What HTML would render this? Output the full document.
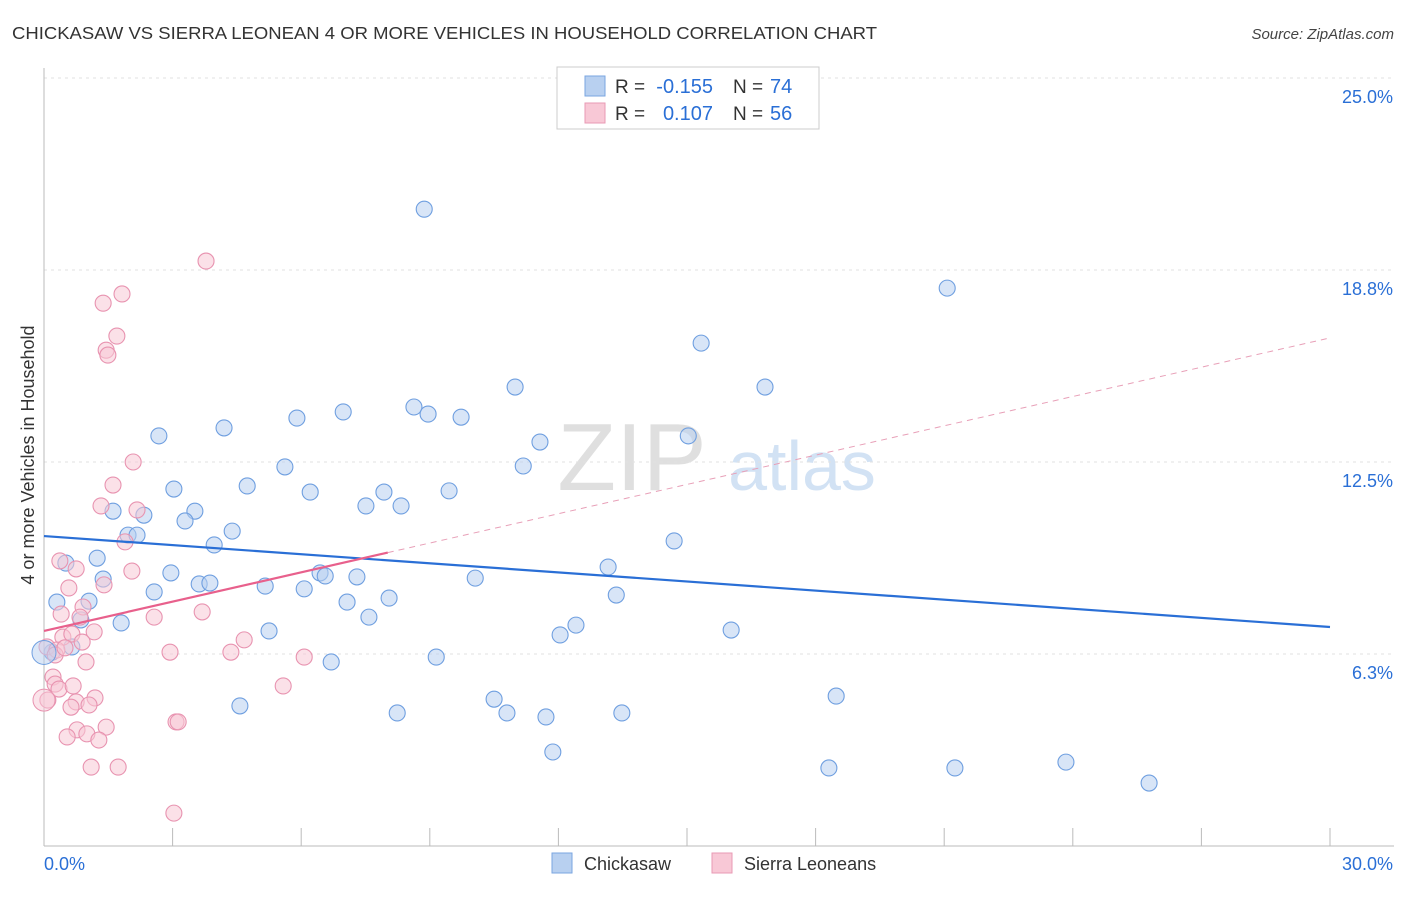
<!DOCTYPE html>
<html><head><meta charset="utf-8"><style>
body{margin:0;background:#fff;font-family:"Liberation Sans",sans-serif}
svg text{font-family:"Liberation Sans",sans-serif}
</style></head><body>
<svg id="chart" width="1406" height="892" xmlns="http://www.w3.org/2000/svg">
<text x="12" y="39" font-size="17.5" fill="#333" textLength="865" lengthAdjust="spacingAndGlyphs">CHICKASAW VS SIERRA LEONEAN 4 OR MORE VEHICLES IN HOUSEHOLD CORRELATION CHART</text>
<text x="1394" y="39" font-size="15" fill="#444" text-anchor="end" font-style="italic">Source: ZipAtlas.com</text>
<text x="632" y="490" font-size="96" fill="#d8d8d8" text-anchor="middle" font-family="Liberation Serif" opacity="0.8">ZIP</text>
<text x="802" y="490" font-size="70" fill="#c8dcf2" text-anchor="middle" opacity="0.8">atlas</text>
<text transform="translate(34,455) rotate(-90)" font-size="18" fill="#333" text-anchor="middle">4 or more Vehicles in Household</text>
<g id="grid"></g><g id="axes"></g><g id="marks"></g>
<g>
<rect x="557" y="67" width="262" height="62" fill="#fff" stroke="#ccc"/>
<rect x="585" y="76" width="20" height="20" fill="#b8d0f0" stroke="#7aa6e0"/>
<rect x="585" y="103" width="20" height="20" fill="#f8c8d6" stroke="#e89ab4"/>
<text x="615" y="93" font-size="19" fill="#333">R =</text>
<text x="713" y="93" font-size="20" fill="#2a6fd6" text-anchor="end">-0.155</text>
<text x="733" y="93" font-size="19" fill="#333">N =</text>
<text x="770" y="93" font-size="20" fill="#2a6fd6">74</text>
<text x="615" y="120" font-size="19" fill="#333">R =</text>
<text x="713" y="120" font-size="20" fill="#2a6fd6" text-anchor="end">0.107</text>
<text x="733" y="120" font-size="19" fill="#333">N =</text>
<text x="770" y="120" font-size="20" fill="#2a6fd6">56</text>
</g>
<g>
<rect x="552" y="853" width="20" height="20" fill="#b8d0f0" stroke="#7aa6e0"/>
<text x="584" y="870" font-size="18" fill="#333">Chickasaw</text>
<rect x="712" y="853" width="20" height="20" fill="#f8c8d6" stroke="#e89ab4"/>
<text x="744" y="870" font-size="18" fill="#333">Sierra Leoneans</text>
</g>
</svg>
<script>
const yTicks=[6.25,12.5,18.75,25];
const yTickLabels=["6.3%","12.5%","18.8%","25.0%"];
const xTicks=[0,3,6,9,12,15,18,21,24,27,30];
const blueX=[8.87,21.07,15.33,10.99,16.82,8.63,8.96,9.73,6.98,5.90,4.20,2.68,11.57,15.03,5.62,11.18,4.74,3.03,6.21,7.93,9.45,7.51,8.33,1.61,2.33,3.52,3.29,1.96,2.17,4.39,3.97,14.70,1.24,0.51,13.16,2.96,1.38,6.44,6.56,7.30,10.06,3.62,3.87,5.16,6.07,2.57,13.35,1.05,0.30,8.05,7.07,7.58,0.86,1.80,12.41,12.04,5.25,16.03,0.65,0.19,6.70,9.15,18.48,10.50,4.57,8.24,10.80,11.71,13.48,11.87,18.31,21.25,23.84,25.78];
const blueY=[20.73,18.16,16.37,14.94,14.94,14.29,14.06,13.96,14.13,13.93,13.61,13.35,13.15,13.35,12.34,12.37,11.72,11.62,11.52,11.52,11.56,11.07,11.07,10.90,10.77,10.90,10.58,10.12,10.12,10.25,9.80,9.93,9.37,9.21,9.08,8.89,8.69,8.89,8.79,8.76,8.72,8.53,8.56,8.46,8.37,8.27,8.17,7.97,7.94,8.07,7.94,7.45,7.36,7.26,7.19,6.87,7.00,7.03,6.48,6.31,5.99,6.15,4.88,4.78,4.56,4.33,4.33,4.20,4.33,3.06,2.54,2.54,2.73,2.05];
const pinkX=[3.78,1.82,1.38,1.70,1.45,1.49,2.08,1.61,1.33,2.17,1.89,0.37,0.75,2.05,0.58,1.40,0.91,0.40,2.57,3.69,0.84,1.17,0.44,0.65,0.89,4.67,0.07,2.94,4.36,0.30,6.07,0.98,0.21,0.26,0.35,0.68,5.58,1.19,0.09,0.75,0.63,1.05,3.08,3.13,1.45,0.77,1.00,0.54,1.28,1.10,1.73,3.03,0.26,0.49];
const pinkY=[19.04,17.97,17.67,16.60,16.14,15.98,12.50,11.75,11.07,10.94,9.90,9.28,9.02,8.95,8.40,8.50,7.78,7.55,7.45,7.62,7.45,6.97,6.80,6.90,6.64,6.71,6.48,6.31,6.31,6.38,6.15,5.99,5.50,5.27,5.11,5.21,5.21,4.82,4.75,4.69,4.52,4.59,4.04,4.04,3.87,3.78,3.65,3.55,3.45,2.57,2.57,1.07,6.22,6.45];
const blueTrend=[10.09,7.13];
const pinkTrend=[7.0,16.54];
const pinkSolidEnd=8.02;
const X0=44,X1=1330,Y0=846,Y1=78;
const sx=v=>X0+(v/30)*(X1-X0);
const sy=v=>Y0-(v/25)*(Y0-Y1);
const NS="http://www.w3.org/2000/svg";
function mk(tag,attrs,parent){const e=document.createElementNS(NS,tag);for(const k in attrs)e.setAttribute(k,attrs[k]);parent.appendChild(e);return e;}
const grid=document.getElementById('grid'),axes=document.getElementById('axes'),marks=document.getElementById('marks');
yTicks.forEach((t,i)=>{
 const l=mk('line',{x1:X0,y1:sy(t),x2:1394,y2:sy(t),stroke:'#e2e2e2','stroke-dasharray':'3,4'},grid);
 
 
 const tx=mk('text',{x:1393,y:sy(t)+25,'font-size':18,fill:'#2a6fd6','text-anchor':'end'},axes);
 tx.textContent=yTickLabels[i];
 
 
});
const ya=mk('line',{x1:X0,y1:68,x2:X0,y2:Y0,stroke:'#bbb'},axes);


const xa=mk('line',{x1:X0,y1:Y0,x2:1394,y2:Y0,stroke:'#bbb'},axes);


xTicks.forEach(t=>{
 const l=mk('line',{x1:sx(t),y1:Y0-18,x2:sx(t),y2:Y0,stroke:'#bbb'},axes);
 
 
});
const xl0=mk('text',{x:44,y:870,'font-size':18,fill:'#2a6fd6'},axes);xl0.textContent='0.0%';


const xl1=mk('text',{x:1393,y:870,'font-size':18,fill:'#2a6fd6','text-anchor':'end'},axes);xl1.textContent='30.0%';


function pts(xs,ys,fill,stroke,name){xs.forEach((x,i)=>{
 const c=mk('circle',{cx:sx(x),cy:sy(ys[i]),r:8,fill:fill,'fill-opacity':0.55,stroke:stroke,'stroke-width':1.1},marks);
 
 
});}
pts(blueX,blueY,'#b8d0f0','#6f9fe0','chickasaw-point');
pts(pinkX,pinkY,'#f8c8d6','#e893b0','sierra-leonean-point');
const b1=mk('circle',{cx:sx(0),cy:sy(6.3),r:12,fill:'#b8d0f0','fill-opacity':0.5,stroke:'#6f9fe0'},marks);


const p1=mk('circle',{cx:sx(0),cy:sy(4.75),r:11,fill:'#f8c8d6','fill-opacity':0.5,stroke:'#e893b0'},marks);


const bt=mk('line',{x1:sx(0),y1:sy(blueTrend[0]),x2:sx(30),y2:sy(blueTrend[1]),stroke:'#2a6fd6','stroke-width':2.2},marks);


const pv=x=>pinkTrend[0]+(pinkTrend[1]-pinkTrend[0])*x/30;
const pd=mk('line',{x1:sx(pinkSolidEnd),y1:sy(pv(pinkSolidEnd)),x2:sx(30),y2:sy(pinkTrend[1]),stroke:'#e8a0b8','stroke-width':1,'stroke-dasharray':'6,5'},marks);


const ps=mk('line',{x1:sx(0),y1:sy(pinkTrend[0]),x2:sx(pinkSolidEnd),y2:sy(pv(pinkSolidEnd)),stroke:'#e8608c','stroke-width':2.2},marks);


</script>
</body></html>
